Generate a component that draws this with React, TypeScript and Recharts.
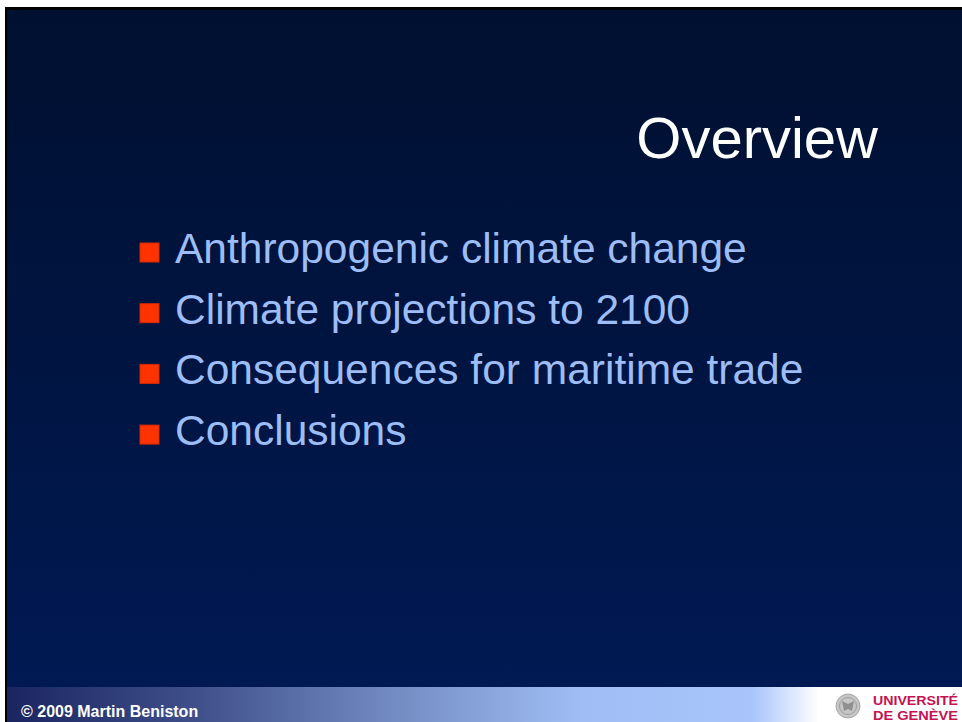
import { Customized, Scatter, ScatterChart, XAxis, YAxis } from "recharts";

const TITLE = "Overview";
const BULLETS = [
  "Anthropogenic climate change",
  "Climate projections to 2100",
  "Consequences for maritime trade",
  "Conclusions",
];
const RANKS = [1, 2, 3, 4];
const FOOTER = "© 2009 Martin Beniston";
const UNI_LINES = ["UNIVERSITÉ", "DE GENÈVE"];

const FONT = "'Liberation Sans', Arial, Helvetica, sans-serif";

const bulletData = BULLETS.map((label, i) => ({ x: 0, rank: RANKS[i], label }));

function BulletShape(props: any) {
  const { cx, cy, payload } = props;
  return (
    <g>
      <rect x={cx - 9.5} y={cy - 9.5} width={19} height={19} fill="#ff3300" stroke="#d42a00" strokeWidth={1} />
      <text x={cx + 25.5} y={cy + 10.5} fill="#9dbdf6" fontFamily={FONT} fontSize={42.5}>
        {payload.label}
      </text>
    </g>
  );
}

function SlideText() {
  return (
    <g>
      <text x={878} y={158} textAnchor="end" fill="#ffffff" fontFamily={FONT} fontSize={58}>
        {TITLE}
      </text>
      <text x={21} y={717} fill="#ffffff" fontFamily={FONT} fontSize={16} fontWeight="bold">
        {FOOTER}
      </text>
      {/* university seal */}
      <circle cx={848} cy={706} r={12} fill="#c6c6c6" stroke="#a8a8a8" strokeWidth={1} />
      <circle cx={848} cy={706} r={8.5} fill="none" stroke="#9c9c9c" strokeWidth={1} />
      <path d="M842 701 L848 704 L854 701 L852 711 L848 709 L844 711 Z" fill="#8f8f8f" />
      <text x={873} y={704.5} fill="#c4134f" fontFamily={FONT} fontSize={13} fontWeight="bold" textLength={85} lengthAdjust="spacingAndGlyphs">
        {UNI_LINES[0]}
      </text>
      <text x={873} y={719.5} fill="#c4134f" fontFamily={FONT} fontSize={13} fontWeight="bold" textLength={85} lengthAdjust="spacingAndGlyphs">
        {UNI_LINES[1]}
      </text>
    </g>
  );
}

export default function App() {
  return (
    <div style={{ position: "absolute", left: 0, top: 0, width: 962, height: 722, background: "#ffffff", overflow: "hidden" }}>
      <div
        style={{
          position: "absolute",
          left: 5,
          top: 7,
          width: 957,
          height: 715,
          boxSizing: "border-box",
          borderTop: "3px solid #000",
          borderLeft: "2px solid #000",
          background: "linear-gradient(to bottom, #001030 0%, #001440 45%, #001a55 100%)",
        }}
      />
      <div
        style={{
          position: "absolute",
          left: 7,
          top: 687,
          width: 955,
          height: 35,
          background:
            "linear-gradient(to right, #1a2560 0%, #40508a 20%, #7690c6 42%, #a0bdf5 60%, #a8c4fb 78%, #ffffff 85%, #ffffff 100%)",
        }}
      />
      <div style={{ position: "absolute", left: 0, top: 0 }}>
        <ScatterChart width={962} height={722} margin={{ top: 252.5, right: 812, bottom: 287.4, left: 149.5 }}>
          <XAxis type="number" dataKey="x" domain={[0, 1]} hide />
          <YAxis type="number" dataKey="rank" domain={[1, 4]} reversed hide />
          <Scatter data={bulletData} shape={BulletShape} isAnimationActive={false} />
          <Customized component={SlideText} />
        </ScatterChart>
      </div>
    </div>
  );
}
